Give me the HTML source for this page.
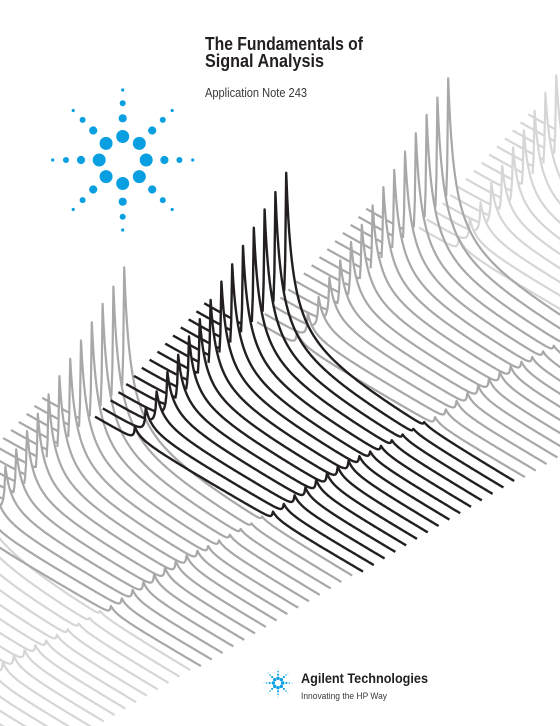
<!DOCTYPE html>
<html><head><meta charset="utf-8">
<style>
html,body{margin:0;padding:0;background:#fff;overflow:hidden;width:560px;height:726px;}
#page{position:relative;width:560px;height:726px;overflow:hidden;background:#fff;}
svg{position:absolute;left:0;top:0;overflow:hidden;}
</style></head>
<body>
<div id="page">
<svg id="chart" width="560" height="726" viewBox="0 0 560 726">
  <defs><clipPath id="frame"><rect x="0" y="0" width="560" height="726"/></clipPath></defs>
  <g id="traces" clip-path="url(#frame)"></g>
  <g id="logo"></g>
  <g id="logoSmall"></g>
  <text x="205" y="50" font-family="'Liberation Sans Narrow','Liberation Sans',sans-serif" font-weight="bold" font-size="18" fill="#231f20" textLength="158" lengthAdjust="spacingAndGlyphs">The Fundamentals of</text>
  <text x="205" y="67" font-family="'Liberation Sans Narrow','Liberation Sans',sans-serif" font-weight="bold" font-size="18" fill="#231f20" textLength="119" lengthAdjust="spacingAndGlyphs">Signal Analysis</text>
  <text x="205" y="97" font-family="'Liberation Sans Narrow','Liberation Sans',sans-serif" font-size="12.5" fill="#3a3a3a" textLength="102" lengthAdjust="spacingAndGlyphs">Application Note 243</text>
  <text x="301" y="683" font-family="'Liberation Sans Narrow','Liberation Sans',sans-serif" font-weight="bold" font-size="14" fill="#231f20" textLength="127" lengthAdjust="spacingAndGlyphs">Agilent Technologies</text>
  <text x="301" y="699" font-family="'Liberation Sans Narrow','Liberation Sans',sans-serif" font-size="9.5" fill="#3a3a3a" textLength="86" lengthAdjust="spacingAndGlyphs">Innovating the HP Way</text>
</svg>
</div>
<script>
// data
const peak1Heights = [13,26,36,49,60,72,83,96,108,119,131,143,155,166,179];
const peak2Heights = [8,9,11,12,13,13,13,12,10,8,7,6,5,4,4];
const blockIds = [-3,-2,-1,0,1,2];
const blockColors = ['#e4e4e4','#d6d6d6','#a9a7a8','#231f20','#a9a7a8','#d6d6d6'];
const blockDrawOrder = [-3,-2,2,-1,1,0];

const NS='http://www.w3.org/2000/svg';
const perBlock = peak1Heights.length;
const ox=135, oy=440, stepX=10.8, stepY=-6.3, slope=0.58, peakGap=138;
function fR(d){return Math.exp(-d/400)/(1+d/6.5);}
function fL(d){return Math.pow(1+d/1.5,-1.3);}
function elev(x,x0,h){const d=x-x0;return h*(d>=0?fR(d):fL(-d));}
const g=document.getElementById('traces');

function traceData(k){
  const b=Math.floor(k/perBlock), j=k-b*perBlock;
  const x0=ox+stepX*k, by=oy+stepY*k;
  const t0=-40-3*j, pts=[];
  for(let t=t0;t<=228;t+=1){
    const x=x0+t;
    pts.push([x, by+slope*t-elev(x,x0,peak1Heights[j])-elev(x,x0+peakGap,peak2Heights[j])]);
  }
  return {j,pts,xs:x0+t0,xe:x0+228};
}
function yAt(tr,x){
  const f=x-tr.xs, i=Math.floor(f);
  if(i<0||i>=tr.pts.length-1) return null;
  const a=tr.pts[i][1], c=tr.pts[i+1][1];
  return a+(c-a)*(f-i);
}
blockDrawOrder.forEach(function(b){
  const color=blockColors[blockIds.indexOf(b)];
  const trs=[];
  for(let j=0;j<perBlock;j++) trs.push(traceData(b*perBlock+j));
  for(let j=perBlock-1;j>=0;j--){
    const tr=trs[j];
    let seg=[];
    const segs=[];
    tr.pts.forEach(function(p){
      let vis=true;
      for(let m=0;m<j;m++){
        const ym=yAt(trs[m],p[0]);
        if(ym!==null && p[1]>ym-0.5){vis=false;break;}
      }
      if(vis) seg.push(p[0].toFixed(1)+','+p[1].toFixed(1));
      else { if(seg.length>1) segs.push(seg); seg=[]; }
    });
    if(seg.length>1) segs.push(seg);
    segs.forEach(function(s){
      const line=document.createElementNS(NS,'polyline');
      
      
      line.setAttribute('points',s.join(' '));
      line.setAttribute('fill','none');
      line.setAttribute('stroke',color);
      line.setAttribute('stroke-width',b===0?'2.4':'2.2');
      line.setAttribute('stroke-linejoin','round');
      g.appendChild(line);
    });
  }
});
function spark(group,cx,cy,scale,color){
  const dists=[23.5,41.7,56.7,70], radii=[6.5,4.1,3,1.6];
  for(let a=0;a<8;a++){
    const ang=a*Math.PI/4;
    for(let i=0;i<4;i++){
      const c=document.createElementNS(NS,'circle');
      
      
      c.setAttribute('cx',(cx+Math.cos(ang)*dists[i]*scale).toFixed(2));
      c.setAttribute('cy',(cy+Math.sin(ang)*dists[i]*scale).toFixed(2));
      c.setAttribute('r',(radii[i]*scale*(scale<1?1.3:1)).toFixed(2));
      c.setAttribute('fill',color);
      group.appendChild(c);
    }
  }
}
spark(document.getElementById('logo'),122.7,160,1,'#0a9fe0');
spark(document.getElementById('logoSmall'),278,683,0.2,'#0a9fe0');
</script>
</body></html>
